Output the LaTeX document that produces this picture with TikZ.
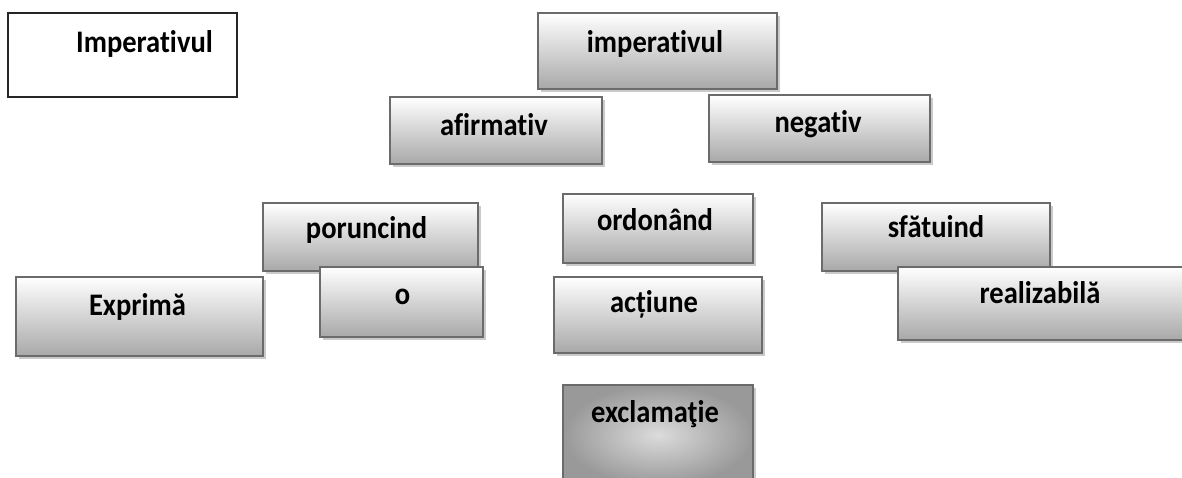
\documentclass[tikz,border=0pt]{standalone}
\usepackage{fontspec}
\setmainfont{Carlito}[Ligatures={NoCommon}]
\usetikzlibrary{shadows}
\newcommand\lbl[1]{\scalebox{1.02}[1.12]{#1}}
\tikzset{
  x=1pt, y=-1pt,
  boxbase/.style={rectangle, inner sep=0pt, outer sep=0pt, anchor=north west, line width=1.3pt},
  gbox/.style={boxbase, draw=black!58, top color=white, bottom color=black!34, shading angle=0,
    drop shadow={shadow xshift=2.5pt, shadow yshift=-2.5pt, opacity=0.35, fill=black!60}},
  dbox/.style={boxbase, draw=black!58, inner color=black!14, outer color=black!40,
    drop shadow={shadow xshift=2.5pt, shadow yshift=-2.5pt, opacity=0.35, fill=black!60}},
  pbox/.style={boxbase, draw=black!85, line width=1.4pt},
  txt/.style={anchor=base, inner sep=0pt, font=\fontsize{28}{30}\selectfont\bfseries, text=black}
}
\begin{document}
\begin{tikzpicture}
\useasboundingbox (0,0) rectangle (1182,477);
% plain title box
\node[pbox, minimum width=229pt, minimum height=84pt] (title) at (8,13) {};
\node[txt] (titlet) at (144.5,52) {\lbl{Imperativul}};
% top
\node[gbox, minimum width=239pt, minimum height=76pt] (imp) at (538,13) {};
\node[txt] (impt) at (655,52) {\lbl{imperativul}};
\node[gbox, minimum width=212pt, minimum height=67pt] (afi) at (390,97) {};
\node[txt] (afit) at (494,135) {\lbl{afirmativ}};
\node[gbox, minimum width=221pt, minimum height=67pt] (neg) at (709,95) {};
\node[txt] (negt) at (818,132) {\lbl{negativ}};
% left group
\node[gbox, minimum width=247pt, minimum height=79pt] (exp) at (16,277) {};
\node[txt] (expt) at (137.5,315) {\lbl{Exprimă}};
\node[gbox, minimum width=215pt, minimum height=68pt] (por) at (263,203) {};
\node[txt] (port) at (366.5,238) {\lbl{poruncind}};
\node[gbox, minimum width=163pt, minimum height=70pt] (o) at (320,267) {};
\node[txt] (ot) at (402.5,304) {\lbl{o}};
% middle
\node[gbox, minimum width=190pt, minimum height=69pt] (ord) at (563,194) {};
\node[txt] (ordt) at (655,230) {\lbl{ordonând}};
\node[gbox, minimum width=208pt, minimum height=76pt] (act) at (554,277) {};
\node[txt] (actt) at (654,312) {\lbl{acțiune}};
\node[dbox, minimum width=190pt, minimum height=100pt] (exc) at (563,385) {};
\node[txt] (exct) at (655,422) {\lbl{exclamaţie}};
% right
\node[gbox, minimum width=228pt, minimum height=68pt] (sfa) at (822,203) {};
\node[txt] (sfat) at (936,237) {\lbl{sfătuind}};
\node[gbox, minimum width=300pt, minimum height=73pt] (rea) at (898,267) {};
\node[txt] (reat) at (1040,303) {\lbl{realizabilă}};
\end{tikzpicture}
\end{document}
